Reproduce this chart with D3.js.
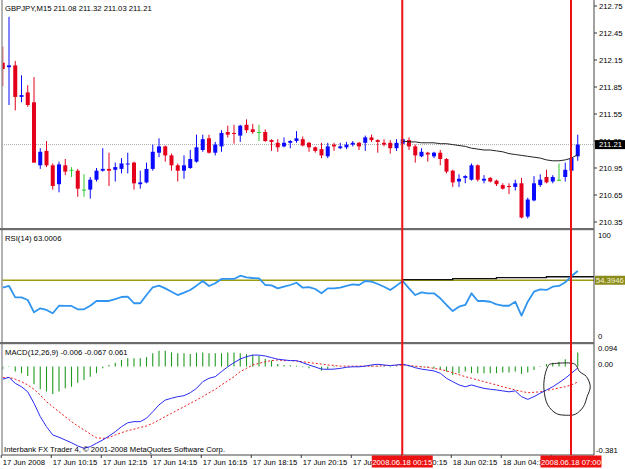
<!DOCTYPE html>
<html>
<head>
<meta charset="utf-8">
<script src="https://cdn.jsdelivr.net/npm/d3@7"></script>
<style>
    body { margin: 0; background: #fff; }
    svg text { font-family: "Liberation Sans", Arial, sans-serif; font-size: 7.7px; fill: #000; }
</style>
</head>
<body>
<svg id="chart" width="625" height="469"></svg>
<script>
const opens = [212.12, 212.07, 212.09, 211.74, 211.79, 211.68, 210.98, 211.14, 210.98, 210.77,
    210.98, 210.93, 210.92, 210.71, 210.71, 210.82, 210.92, 210.94, 210.93, 210.94,
    210.99, 211.01, 210.77, 210.79, 210.94, 211.12, 211.19, 211.09, 210.98, 210.92,
    210.95, 211.02, 211.15, 211.28, 211.12, 211.19, 211.35, 211.34, 211.31, 211.43,
    211.38, 211.35, 211.35, 211.26, 211.23, 211.19, 211.23, 211.25, 211.27, 211.23,
    211.18, 211.16, 211.08, 211.21, 211.17, 211.18, 211.21, 211.23, 211.23, 211.29,
    211.26, 211.23, 211.23, 211.17, 211.22, 211.26, 211.19, 211.08, 211.12, 211.08,
    211.12, 211.05, 210.92, 210.80, 210.84, 210.82, 210.98, 210.81, 210.84, 210.81,
    210.76, 210.75, 210.74, 210.78, 210.41, 210.59, 210.76, 210.85, 210.80, 210.82,
    210.85, 210.92, 211.08];
const highs = [212.30, 212.63, 212.14, 211.98, 211.87, 211.96, 211.17, 211.25, 211.00, 211.02,
    211.05, 210.96, 210.94, 210.88, 210.85, 210.95, 211.17, 211.12, 211.01, 211.06,
    211.12, 211.02, 210.92, 211.01, 211.21, 211.28, 211.20, 211.11, 211.00, 211.09,
    211.15, 211.32, 211.32, 211.32, 211.24, 211.37, 211.42, 211.43, 211.43, 211.49,
    211.44, 211.43, 211.38, 211.27, 211.27, 211.29, 211.26, 211.36, 211.30, 211.24,
    211.19, 211.23, 211.23, 211.23, 211.23, 211.24, 211.25, 211.24, 211.31, 211.32,
    211.27, 211.27, 211.26, 211.27, 211.28, 211.29, 211.21, 211.17, 211.13, 211.13,
    211.15, 211.06, 210.93, 210.88, 210.87, 211.00, 210.99, 210.87, 210.85, 210.82,
    210.78, 210.78, 210.82, 210.84, 210.62, 210.86, 210.88, 210.93, 210.87, 211.00,
    211.01, 211.07, 211.32];
const lows = [211.86, 211.65, 211.59, 211.68, 211.63, 211.01, 210.94, 210.96, 210.71, 210.68,
    210.87, 210.85, 210.63, 210.63, 210.61, 210.80, 210.91, 210.75, 210.80, 210.89,
    210.89, 210.71, 210.72, 210.78, 210.92, 211.07, 211.02, 210.92, 210.80, 210.83,
    210.94, 211.01, 211.13, 211.11, 211.09, 211.13, 211.29, 211.22, 211.24, 211.34,
    211.33, 211.25, 211.24, 211.14, 211.13, 211.18, 211.17, 211.23, 211.19, 211.13,
    211.12, 211.06, 211.06, 211.14, 211.16, 211.16, 211.19, 211.15, 211.14, 211.24,
    211.12, 211.19, 211.11, 211.14, 211.21, 211.15, 211.01, 211.07, 211.02, 211.06,
    210.98, 210.89, 210.74, 210.74, 210.78, 210.81, 210.80, 210.78, 210.79, 210.75,
    210.71, 210.66, 210.70, 210.39, 210.39, 210.58, 210.74, 210.78, 210.78, 210.81,
    210.80, 210.91, 211.03];
const closes = [212.05, 212.09, 211.74, 211.76, 211.65, 211.01, 211.13, 210.98, 210.75, 210.99,
    210.91, 210.93, 210.72, 210.71, 210.82, 210.92, 210.94, 210.92, 210.96, 211.00,
    211.00, 210.78, 210.79, 210.94, 211.13, 211.19, 211.09, 210.98, 210.92, 210.98,
    211.05, 211.18, 211.27, 211.12, 211.21, 211.34, 211.32, 211.33, 211.42, 211.37,
    211.35, 211.35, 211.25, 211.24, 211.18, 211.23, 211.25, 211.28, 211.20, 211.18,
    211.14, 211.09, 211.19, 211.19, 211.19, 211.21, 211.23, 211.19, 211.29, 211.26,
    211.24, 211.21, 211.17, 211.23, 211.27, 211.19, 211.09, 211.13, 211.10, 211.12,
    211.05, 210.91, 210.79, 210.83, 210.86, 210.98, 210.82, 210.83, 210.80, 210.77,
    210.72, 210.74, 210.78, 210.40, 210.60, 210.78, 210.82, 210.79, 210.85, 210.82,
    210.93, 211.06, 211.21];

// black line drawn on the price chart from the first marker on
const trendStart = 64;
const trendValues = [211.25, 211.24, 211.24, 211.23, 211.23, 211.23, 211.22, 211.22, 211.21, 211.20,
    211.19, 211.17, 211.16, 211.15, 211.15, 211.14, 211.13, 211.11, 211.10, 211.09,
    211.08, 211.07, 211.06, 211.04, 211.03, 211.03, 211.04, 211.06, 211.10];

const rsiValues = [47.5, 49.1, 38.6, 38.6, 36.1, 24.7, 28.4, 26.9, 23.8, 30.8,
    30.6, 30.6, 27.5, 27.5, 30.8, 35.2, 35.2, 35.2, 37.0, 38.9,
    39.2, 33.1, 33.1, 40.7, 47.9, 49.4, 46.9, 43.8, 40.7, 42.9,
    45.4, 49.4, 53.7, 49.1, 51.6, 55.6, 55.6, 55.6, 58.6, 57.1,
    56.5, 56.2, 50.0, 49.7, 46.9, 48.4, 50.0, 52.1, 47.5, 48.1,
    46.3, 42.3, 46.9, 46.9, 47.5, 49.1, 50.6, 50.0, 53.7, 53.1,
    50.9, 48.4, 45.4, 49.4, 53.7, 46.9, 40.7, 43.2, 42.3, 42.3,
    37.7, 31.5, 25.9, 29.9, 31.5, 42.3, 35.2, 35.2, 34.5, 32.1,
    30.8, 30.8, 34.5, 21.6, 34.5, 43.8, 46.0, 45.4, 48.4, 49.1,
    52.5, 58.3, 63.0006];
const rsiLevel = 54.3946;
const rsiStepBars = [64, 72, 79, 87, 95];
const rsiStepValues = [55.0, 55.9, 56.8, 57.7, 57.7];

const macdMain = [-0.055, -0.047, -0.073, -0.088, -0.110, -0.160, -0.218, -0.262, -0.298, -0.308,
    -0.320, -0.332, -0.346, -0.356, -0.349, -0.334, -0.320, -0.303, -0.284, -0.262,
    -0.245, -0.240, -0.240, -0.225, -0.197, -0.167, -0.146, -0.138, -0.131, -0.127,
    -0.114, -0.095, -0.066, -0.051, -0.044, -0.022, -0.001, 0.017, 0.033, 0.043,
    0.050, 0.050, 0.046, 0.039, 0.032, 0.029, 0.026, 0.026, 0.017, 0.007,
    -0.002, -0.011, -0.012, -0.011, -0.008, -0.003, -0.001, -0.001, 0.002, 0.007,
    0.010, 0.007, 0.004, 0.007, 0.010, 0.004, -0.005, -0.011, -0.015, -0.019,
    -0.029, -0.051, -0.066, -0.080, -0.088, -0.080, -0.088, -0.095, -0.099, -0.102,
    -0.106, -0.110, -0.106, -0.131, -0.143, -0.131, -0.116, -0.102, -0.088, -0.070,
    -0.051, -0.029, -0.006];
const macdSignal = [-0.048, -0.047, -0.055, -0.066, -0.080, -0.099, -0.124, -0.153, -0.175, -0.197,
    -0.218, -0.240, -0.259, -0.276, -0.294, -0.310, -0.313, -0.310, -0.298, -0.288,
    -0.279, -0.273, -0.265, -0.259, -0.247, -0.233, -0.218, -0.204, -0.189, -0.175,
    -0.160, -0.146, -0.131, -0.114, -0.099, -0.080, -0.062, -0.044, -0.022, -0.008,
    0.007, 0.014, 0.021, 0.026, 0.029, 0.026, 0.026, 0.024, 0.021, 0.018,
    0.014, 0.011, 0.007, 0.005, 0.002, 0.002, 0.002, 0.002, 0.002, 0.002,
    0.002, 0.004, 0.005, 0.005, 0.007, 0.005, 0.002, -0.001, -0.003, -0.008,
    -0.012, -0.019, -0.027, -0.035, -0.044, -0.051, -0.058, -0.066, -0.073, -0.080,
    -0.088, -0.095, -0.102, -0.108, -0.114, -0.112, -0.110, -0.104, -0.099, -0.093,
    -0.088, -0.080, -0.067];
const macdHist = [-0.012, -0.002, -0.022, -0.029, -0.041, -0.077, -0.099, -0.109, -0.119, -0.109,
    -0.095, -0.088, -0.070, -0.058, -0.044, -0.029, -0.007, 0.007, 0.017, 0.029,
    0.036, 0.036, 0.036, 0.041, 0.058, 0.069, 0.069, 0.062, 0.058, 0.058,
    0.055, 0.061, 0.061, 0.058, 0.058, 0.058, 0.061, 0.061, 0.058, 0.054,
    0.051, 0.046, 0.033, 0.026, 0.011, 0.007, 0.006, 0.004, -0.003, -0.007,
    -0.002, -0.018, -0.012, -0.003, 0.001, 0.001, 0.002, -0.002, 0.003, 0.004,
    0.004, 0.002, -0.003, 0.002, 0.004, -0.002, -0.002, -0.003, -0.004, -0.008,
    -0.015, -0.022, -0.037, -0.029, -0.022, -0.029, -0.029, -0.029, -0.029, -0.029,
    -0.026, -0.026, -0.022, -0.032, -0.026, -0.015, 0.002, 0.011, 0.017, 0.021,
    0.032, 0.036, 0.061];
// hand drawn ring around the last bars, as [bar, macd value]
const ringPoints = [[87.5, 0.011], [91.5, 0.011], [92.3, -0.022], [93.4, -0.044], [94.0, -0.088],
    [93.5, -0.131], [92.9, -0.175], [91.6, -0.208], [90.2, -0.212], [88.6, -0.205],
    [87.2, -0.167], [86.6, -0.102], [86.7, -0.044], [87.2, 0.000], [87.5, 0.011]];

const priceTicks = [212.75, 212.45, 212.15, 211.85, 211.55, 211.25, 210.95, 210.65, 210.35];
const lastPrice = 211.21;
const macdTicks = [0.094, 0.00, -0.381];
const timeBars = [0, 8, 16, 24, 32, 40, 48, 56, 64, 72, 80, 88];
const timeLabels = ['17 Jun 2008', '17 Jun 10:15', '17 Jun 12:15', '17 Jun 14:15', '17 Jun 16:15',
    '17 Jun 18:15', '17 Jun 20:15', '17 Jun 22:15', '18 Jun 00:15', '18 Jun 02:15',
    '18 Jun 04:15', '18 Jun 06:15'];
const markerBars = [64, 91];
const markerLabels = ['2008.06.18 00:15', '2008.06.18 07:00'];

const plotLeft = 2;
const plotRight = 594;
const panels = { main: [1, 228], rsi: [230, 342], macd: [344, 455] };
const bull = '#0a0aff', bear = '#e4001b', doji = '#2ecc2e';

const x = d3.scaleLinear().domain([0, 92]).range([2.75, 577.75]);
const yPrice = d3.scaleLinear().domain([210.35, 212.75]).range([222, 6]);
const yRsi = d3.scaleLinear().domain([0, 100]).range([339, 231]);
const yMacd = d3.scaleLinear().domain([-0.381, 0.094]).range([454, 345]);

const svg = d3.select('#chart');

const addClip = (name, [top, bottom]) => {
    svg.append('clipPath').attr('id', `clip-${name}`)
        .append('rect')
        .attr('x', plotLeft).attr('y', top)
        .attr('width', plotRight - plotLeft).attr('height', bottom - top);
    return svg.append('g').attr('clip-path', `url(#clip-${name})`);
}

const candleColor = i => closes[i] > opens[i] ? bull : closes[i] < opens[i] ? bear : doji;

const drawMain = () => {
    const g = addClip('main', panels.main);
    const idx = d3.range(opens.length);

    g.append('line')
        .attr('x1', plotLeft).attr('x2', plotRight)
        .attr('y1', yPrice(lastPrice)).attr('y2', yPrice(lastPrice))
        .attr('stroke', '#aaa').attr('stroke-dasharray', '1,1');

    g.selectAll('.wick').data(idx).enter().append('line')
        .attr('class', 'wick')
        .attr('x1', i => x(i)).attr('x2', i => x(i))
        .attr('y1', i => yPrice(highs[i])).attr('y2', i => yPrice(lows[i]))
        .attr('stroke', candleColor).attr('stroke-width', 1);

    g.selectAll('.body').data(idx).enter().append('rect')
        .attr('class', 'body')
        .attr('x', i => x(i) - 2).attr('width', 4)
        .attr('y', i => yPrice(Math.max(opens[i], closes[i])))
        .attr('height', i => Math.max(1, Math.abs(yPrice(opens[i]) - yPrice(closes[i]))))
        .attr('fill', candleColor);

    const trendLine = d3.line().x((v, i) => x(trendStart + i)).y(v => yPrice(v));
    g.append('path')
        .attr('d', trendLine(trendValues))
        .attr('fill', 'none').attr('stroke', '#222').attr('stroke-width', 1);

    const last = opens.length - 1;
    svg.append('text').attr('x', 5).attr('y', 11)
        .text(`GBPJPY,M15  ${[opens[last], highs[last], lows[last], closes[last]].map(v => v.toFixed(2)).join(' ')}`);

    const axis = svg.append('g');
    axis.selectAll('line').data(priceTicks).enter().append('line')
        .attr('x1', plotRight).attr('x2', plotRight + 3)
        .attr('y1', d => yPrice(d)).attr('y2', d => yPrice(d))
        .attr('stroke', '#333');
    axis.selectAll('text').data(priceTicks).enter().append('text')
        .attr('x', plotRight + 5).attr('y', d => yPrice(d) + 2.7)
        .text(d => d.toFixed(2));

    axis.append('rect')
        .attr('x', plotRight + 1).attr('y', yPrice(lastPrice) - 4.5)
        .attr('width', 30).attr('height', 9).attr('fill', '#000');
    axis.append('text')
        .attr('x', plotRight + 5).attr('y', yPrice(lastPrice) + 2.7)
        .style('fill', '#fff').text(lastPrice.toFixed(2));
}

const drawRsi = () => {
    const g = addClip('rsi', panels.rsi);
    g.append('line')
        .attr('x1', plotLeft).attr('x2', plotRight)
        .attr('y1', yRsi(rsiLevel)).attr('y2', yRsi(rsiLevel))
        .attr('stroke', '#9c9c12').attr('stroke-width', 1.6);

    const stepLine = d3.line().curve(d3.curveStepAfter)
        .x(d => x(d[0])).y(d => yRsi(d[1]));
    g.append('path')
        .attr('d', stepLine(rsiStepBars.map((b, i) => [b, rsiStepValues[i]])))
        .attr('fill', 'none').attr('stroke', '#111').attr('stroke-width', 1.4);

    const line = d3.line().x((v, i) => x(i)).y(v => yRsi(v));
    g.append('path')
        .attr('d', line(rsiValues))
        .attr('fill', 'none').attr('stroke', '#2f95f0').attr('stroke-width', 1.8)
        .attr('stroke-linejoin', 'round');

    svg.append('text').attr('x', 5).attr('y', 240.5)
        .text(`RSI(14) ${rsiValues[rsiValues.length - 1].toFixed(4)}`);

    svg.append('text').attr('x', plotRight + 4).attr('y', yRsi(100) + 6.5).text('100');
    svg.append('text').attr('x', plotRight + 4).attr('y', yRsi(0) - 0.5).text('0');
    svg.append('rect')
        .attr('x', plotRight + 1).attr('y', yRsi(rsiLevel) - 4.5)
        .attr('width', 30).attr('height', 9).attr('fill', '#8c8c1c');
    svg.append('text')
        .attr('x', plotRight + 2).attr('y', yRsi(rsiLevel) + 2.7)
        .style('fill', '#f4f4d8').text(rsiLevel.toFixed(4));
}

const drawMacd = () => {
    const g = addClip('macd', panels.macd);
    const idx = d3.range(macdHist.length);

    g.selectAll('.hist').data(idx).enter().append('line')
        .attr('class', 'hist')
        .attr('x1', i => x(i)).attr('x2', i => x(i))
        .attr('y1', yMacd(0)).attr('y2', i => yMacd(macdHist[i]))
        .attr('stroke', '#1f9a1f').attr('stroke-width', 1.1);

    const line = d3.line().x((v, i) => x(i)).y(v => yMacd(v));
    g.append('path')
        .attr('d', line(macdSignal))
        .attr('fill', 'none').attr('stroke', '#f02020').attr('stroke-width', 1)
        .attr('stroke-dasharray', '2,2');
    g.append('path')
        .attr('d', line(macdMain))
        .attr('fill', 'none').attr('stroke', '#2a2af5').attr('stroke-width', 1);

    const ring = d3.line().curve(d3.curveCatmullRom)
        .x(d => x(d[0])).y(d => yMacd(d[1]));
    svg.append('path')
        .attr('d', ring(ringPoints))
        .attr('fill', 'none').attr('stroke', '#222').attr('stroke-width', 1);

    const last = macdMain.length - 1;
    svg.append('text').attr('x', 5).attr('y', 354.5)
        .text(`MACD(12,26,9) ${[macdMain[last], macdSignal[last], macdHist[last]].map(v => v.toFixed(3)).join(' ')}`);
    svg.append('text').attr('x', 4).attr('y', 452)
        .text('Interbank FX Trader 4, \u00a9 2001-2008 MetaQuotes Software Corp.');

    const labelY = [yMacd(macdTicks[0]) + 6, yMacd(macdTicks[1]) + 0.5, yMacd(macdTicks[2]) - 1.5];
    svg.selectAll('.macd-tick').data(macdTicks).enter().append('text')
        .attr('class', 'macd-tick')
        .attr('x', (d, i) => plotRight + (i == 2 ? 2 : 4))
        .attr('y', (d, i) => labelY[i])
        .text(d => d == 0 ? '0.00' : d.toFixed(3));
}

const drawFrame = () => {
    svg.append('line')
        .attr('x1', plotLeft).attr('x2', plotLeft).attr('y1', 0).attr('y2', panels.macd[1])
        .attr('stroke', '#9a9a9a').attr('stroke-width', 1.5);
    svg.append('line')
        .attr('x1', plotRight).attr('x2', plotRight).attr('y1', 0).attr('y2', panels.macd[1])
        .attr('stroke', '#444');
    [panels.main[1], panels.rsi[1]].forEach(y => {
        svg.append('rect')
            .attr('x', 0).attr('y', y).attr('width', plotRight).attr('height', 2.2)
            .attr('fill', '#6c6c6c');
    });
    svg.append('line')
        .attr('x1', plotLeft).attr('x2', plotRight)
        .attr('y1', panels.macd[1]).attr('y2', panels.macd[1])
        .attr('stroke', '#444');

    const ticks = svg.append('g');
    ticks.selectAll('line').data(timeBars).enter().append('line')
        .attr('x1', b => x(b) - 1.5).attr('x2', b => x(b) - 1.5)
        .attr('y1', panels.macd[1]).attr('y2', panels.macd[1] + 3)
        .attr('stroke', '#333');
    ticks.selectAll('text').data(timeBars).enter().append('text')
        .attr('x', b => x(b))
        .attr('y', 464.5)
        .text((b, i) => timeLabels[i]);

    const markers = svg.append('g');
    markers.selectAll('line').data(markerBars).enter().append('line')
        .attr('x1', b => x(b) - 0.5).attr('x2', b => x(b) - 0.5)
        .attr('y1', 0).attr('y2', panels.macd[1])
        .attr('stroke', '#ee1111').attr('stroke-width', 2);
    markers.selectAll('rect').data(markerBars).enter().append('rect')
        .attr('x', b => x(b) - 31).attr('y', panels.macd[1] + 0.5)
        .attr('width', 61).attr('height', 12)
        .attr('fill', '#ee1111');
    markers.selectAll('text').data(markerBars).enter().append('text')
        .attr('x', b => x(b) - 0.5).attr('y', 464.5)
        .attr('text-anchor', 'middle')
        .style('fill', '#fff')
        .text((b, i) => markerLabels[i]);
}

drawMain();
drawRsi();
drawMacd();
drawFrame();
</script>
</body>
</html>
